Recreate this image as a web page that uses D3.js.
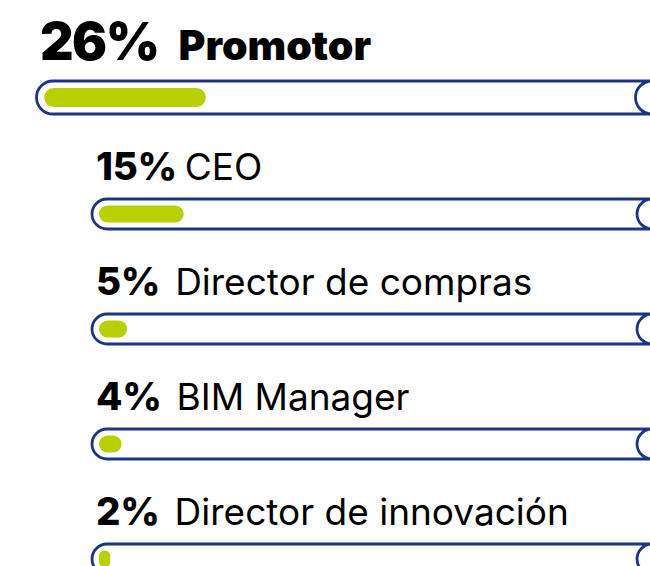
<!DOCTYPE html>
<html>
<head>
<meta charset="utf-8">
<script src="https://cdn.jsdelivr.net/npm/d3@7"></script>
<style>
	html, body { margin: 0; padding: 0; background: #fff; }
	svg { display: block; }
</style>
</head>
<body>
<svg id="chart"></svg>
<script>
'use strict';

var categories = ['Promotor', 'CEO', 'Director de compras', 'BIM Manager', 'Director de innovación'];
var values = [26, 15, 5, 4, 2];
var valueLabels = ['26%', '15%', '5%', '4%', '2%'];

var WIDTH = 650,
	HEIGHT = 566;

var navy = '#1c3483',
	green = '#b9d000',
	ink = '#000000';

// space between the percentage and its label, per row
var labelGaps = [20, 8, 15, 15, 15];

var svg = d3.select('#chart')
	.attr('width', WIDTH)
	.attr('height', HEIGHT);

// bar length per percent (scaled up for the headline row)
var x = d3.scaleLinear()
	.domain([0, 100])
	.range([0, 565]);

var rowY = d3.scaleLinear()
	.domain([1, 4])
	.range([180, 525]);

var rows = categories.map(function (c, i) {
	var big = i === 0;
	return {
		name: c,
		value: values[i],
		label: valueLabels[i],
		k: big ? 1.1 : 1,
		base: big ? 60 : rowY(i),
		left: big ? 36.5 : 92,
		textX: big ? 40 : 96,
		gap: labelGaps[i],
		trackDy: big ? 37.5 : 34
	};
});

var g = svg.selectAll('.row')
	.data(rows)
	.enter()
	.append('g')
	.attr('class', 'row');

// headings
var txt = g.append('text')
	.attr('x', function (d) { return d.textX; })
	.attr('y', function (d) { return d.base; })
	.style('font-family', 'Inter, "Noto Sans", sans-serif')
	.style('fill', ink);

txt.append('tspan')
	.style('font-weight', function (d) { return d.k > 1 ? 900 : 800; })
	.style('font-size', function (d) { return d.k > 1 ? '52px' : '38.5px'; })
	.style('letter-spacing', function (d) { return d.k > 1 ? '-1.5px' : '-0.3px'; })
	.text(function (d) { return d.label; });

txt.append('tspan')
	.attr('dx', function (d) { return d.gap; })
	.style('font-weight', function (d) { return d.k > 1 ? 900 : 400; })
	.style('font-size', function (d) { return d.k > 1 ? '41px' : '37px'; })
	.text(function (d) { return d.name; });

// track outline
function trackPath(d) {
	var r = 15 * d.k,
		cy = d.base + d.trackDy,
		top = cy - r,
		bot = cy + r,
		xl = d.left + r,
		xr = WIDTH + 2;
	return ['M', xr + 20, top, 'L', xl, top,
		'A', r, r, 0, 0, 0, xl, bot,
		'L', xr + 20, bot,
		'M', xr, top,
		'A', r, r, 0, 0, 0, xr, bot].join(' ');
}

g.append('path')
	.attr('d', trackPath)
	.style('fill', 'none')
	.style('stroke', navy)
	.style('stroke-width', 2.8);

// value bars
g.append('rect')
	.attr('x', function (d) { return d.left + 7 * d.k; })
	.attr('y', function (d) { return d.base + d.trackDy - 8.6 * d.k; })
	.attr('height', function (d) { return 17.2 * d.k; })
	.attr('width', function (d) { return x(d.value) * d.k; })
	.attr('rx', function (d) { return Math.min(8.6 * d.k, x(d.value) * d.k / 2); })
	.style('fill', green);
</script>
</body>
</html>
